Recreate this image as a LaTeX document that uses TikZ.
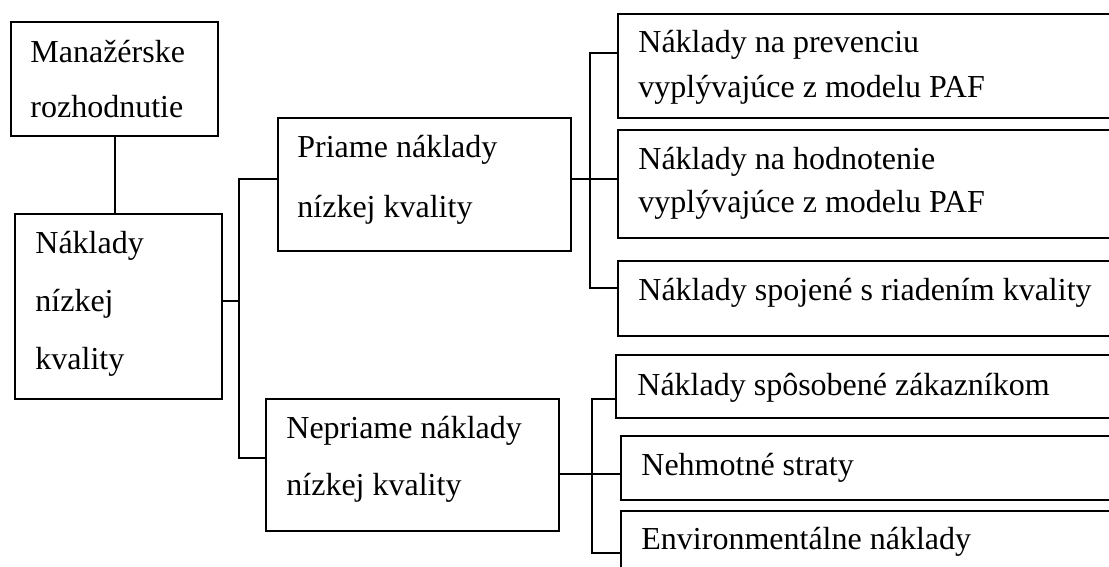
\documentclass[tikz,border=0pt]{standalone}
\usepackage{fontspec}
\setmainfont{Liberation Serif}
\tikzset{
  box/.style={draw, line width=1pt, inner sep=0pt, anchor=north west},
  lbl/.style={anchor=base west, inner sep=0pt, align=left, font=\fontsize{16}{22.5}\selectfont},
  lblwide/.style={lbl, font=\fontsize{16}{29}\selectfont},
  link/.style={line width=1pt}
}
\begin{document}
\begin{tikzpicture}[x=0.5pt, y=-0.5pt]
\useasboundingbox (0,0) rectangle (1109,567);
\node[box, minimum width=103.5pt, minimum height=57pt] (man) at (10,21) {};
\node[box, minimum width=103.5pt, minimum height=92.5pt] (nizka) at (14,213) {};
\node[box, minimum width=146.5pt, minimum height=66.5pt] (priame) at (277,117) {};
\node[box, minimum width=146.5pt, minimum height=66pt] (nepriame) at (265,398) {};
\node[box, minimum width=252pt, minimum height=52pt] (prev) at (617,13) {};
\node[box, minimum width=252pt, minimum height=54pt] (hodn) at (617,129) {};
\node[box, minimum width=252pt, minimum height=37.5pt] (riad) at (617,260) {};
\node[box, minimum width=253pt, minimum height=31.5pt] (zak) at (615,354) {};
\node[box, minimum width=251pt, minimum height=32pt] (nehm) at (619.5,435) {};
\node[box, minimum width=251pt, minimum height=42pt] (env) at (619.5,510) {};
\node[lblwide, font=\fontsize{16}{27.5}\selectfont] (man-t) at ([xshift=10pt,yshift=-48.5pt]man.north west) {Manažérske\\rozhodnutie};
\node[lblwide] (nizka-t) at ([xshift=10.5pt,yshift=-78pt]nizka.north west) {Náklady\\nízkej\\kvality};
\node[lblwide, font=\fontsize{16}{30}\selectfont] (priame-t) at ([xshift=10pt,yshift=-50.5pt]priame.north west) {Priame náklady\\nízkej kvality};
\node[lblwide, font=\fontsize{16}{28.5}\selectfont] (nepriame-t) at ([xshift=10.5pt,yshift=-48.5pt]nepriame.north west) {Nepriame náklady\\nízkej kvality};
\node[lbl] (prev-t) at ([xshift=10.5pt,yshift=-42.5pt]prev.north west) {Náklady na prevenciu\\vyplývajúce z modelu PAF};
\node[lbl, font=\fontsize{16}{21.5}\selectfont] (hodn-t) at ([xshift=10.5pt,yshift=-42pt]hodn.north west) {Náklady na hodnotenie\\vyplývajúce z modelu PAF};
\node[lbl] (riad-t) at ([xshift=10.5pt,yshift=-20pt]riad.north west) {Náklady spojené s riadením kvality};
\node[lbl] (zak-t) at ([xshift=11pt,yshift=-20.5pt]zak.north west) {Náklady spôsobené zákazníkom};
\node[lbl] (nehm-t) at ([xshift=10.75pt,yshift=-20pt]nehm.north west) {Nehmotné straty};
\node[lbl] (env-t) at ([xshift=10.75pt,yshift=-19.5pt]env.north west) {Environmentálne náklady};
\coordinate (j1) at (239,0);
\coordinate (j2) at (590,0);
\coordinate (j3) at (592,0);
\draw[link] (man.south) -- (man.south |- nizka.north);
\draw[link] ([yshift=2.75pt]nizka.east) -- ([yshift=2.75pt]nizka.east -| j1);
\draw[link] ([yshift=2.75pt]priame.west) -- ([yshift=2.75pt]priame.west -| j1) -- ([yshift=3.5pt]nepriame.west -| j1) -- ([yshift=3.5pt]nepriame.west);
\draw[link] ([yshift=2.75pt]priame.east) -- ([yshift=2.75pt]priame.east -| j2);
\draw[link] ([yshift=6.5pt]prev.west) -- ([yshift=6.5pt]prev.west -| j2) -- ([yshift=5.25pt]riad.west -| j2) -- ([yshift=5.25pt]riad.west);
\draw[link] ([yshift=2.5pt]hodn.west) -- ([yshift=2.5pt]hodn.west -| j2);
\draw[link] ([yshift=-4.5pt]nepriame.east) -- ([yshift=-4.5pt]nepriame.east -| j3);
\draw[link] ([yshift=-6pt]zak.west) -- ([yshift=-6pt]zak.west -| j3) -- (env.west -| j3) -- (env.west);
\draw[link] ([yshift=-3pt]nehm.west) -- ([yshift=-3pt]nehm.west -| j3);
\end{tikzpicture}
\end{document}
